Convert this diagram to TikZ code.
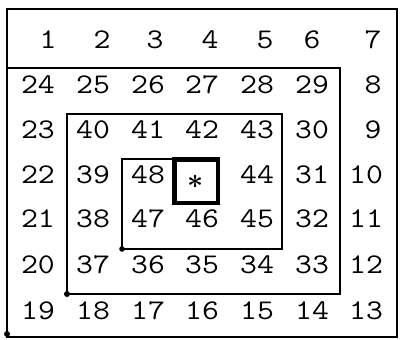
\documentclass[tikz,border=0pt]{standalone}
\usepackage{fontspec}
\newcommand\numfont{\ttfamily\fontsize{28.5}{28.5}\selectfont}
\begin{document}
\begin{tikzpicture}[x=1pt,y=-1pt,
  num/.style={font=\numfont, inner sep=0pt, text=black, xscale=1.15},
  frameline/.style={line width=1.3pt},
  spiral/.style={line width=2pt, line join=miter},
  blob/.style={fill=black},
  centrebox/.style={line width=4.5pt},
  starmark/.style={inner sep=0pt, scale=2.8}]
\useasboundingbox (0,0) rectangle (400,340);
% outer frame
\draw[frameline] (7,9) rectangle (397,337);
\draw[line width=2.2pt] (7,9) -- (7,335);
% spiral
\coordinate (s0) at (7,68);
\coordinate (s1) at (340,68);
\coordinate (s2) at (340,294);
\coordinate (s3) at (67,294);
\coordinate (s4) at (67,114);
\coordinate (s5) at (282,114);
\coordinate (s6) at (282,249);
\coordinate (s7) at (122,249);
\coordinate (s8) at (122,159);
\coordinate (s9) at (172,159);
\draw[spiral] (s0) -- (s1) -- (s2) -- (s3) -- (s4) -- (s5) -- (s6) -- (s7) -- (s8) -- (s9);
\fill[blob] (s3) circle (3);
\fill[blob] (s7) circle (2.8);
\fill[blob] (7,334) circle (3);
% centre box
\draw[centrebox] (174.25,159.25) rectangle (217.75,202.75);
\node[starmark] (ctr) at (196,181.5) {{\boldmath$\ast$}};
% numbers
\foreach \t/\x/\y in {1/48/40, 2/102/40, 3/155/40, 4/210/40, 5/265/40, 6/312/40, 7/373/40,
  24/38/85, 25/93/85, 26/148/85, 27/202/85, 28/257/85, 29/312/85, 8/373/85,
  23/38/130, 40/93/130, 41/148/130, 42/202/130, 43/257/130, 30/312/130, 9/373/130,
  22/38/175, 39/93/175, 48/148/175, 44/257/175, 31/312/175, 10/366/175,
  21/38/219, 38/93/219, 47/148/219, 46/202/219, 45/257/219, 32/312/219, 11/366/219,
  20/38/265, 37/93/265, 36/148/265, 35/202/265, 34/257/265, 33/312/265, 12/366/265,
  19/38/311, 18/93/311, 17/148/311, 16/202/311, 15/257/311, 14/312/311, 13/366/311}
  \node[num] (n\t) at (\x,\y) {\t};
\end{tikzpicture}
\end{document}
